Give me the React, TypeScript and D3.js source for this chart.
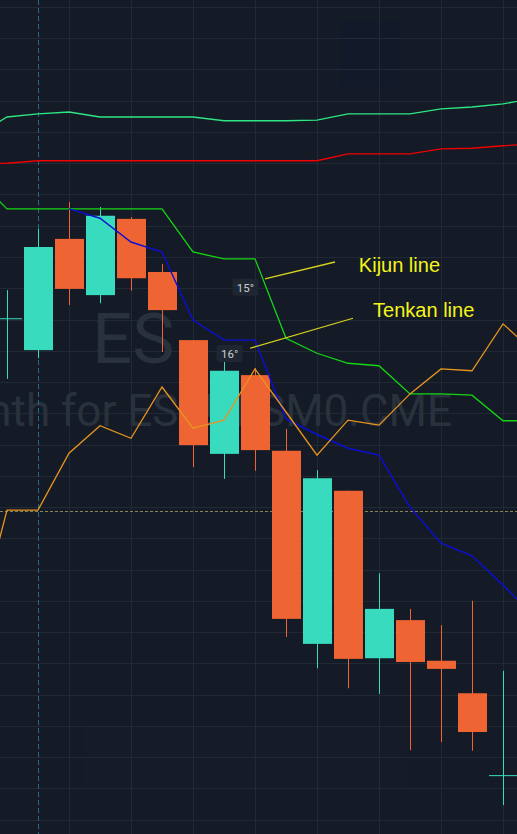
import React from 'react';
import * as d3 from 'd3';

// trading sessions shown (one candle each)
const sessions = [
  '02-13', '02-14', '02-18', '02-19', '02-20', '02-21', '02-24', '02-25', '02-26',
  '02-27', '02-28', '03-02', '03-03', '03-04', '03-05', '03-06', '03-09',
];
const opens = [2952, 2901, 3079, 2989, 3111, 3026, 2917, 2735, 2861, 2740, 2431, 2676, 2408, 2469, 2404, 2352, 2221];
const highs = [2997, 3095, 3138, 3130, 3114, 3039, 2917, 2885, 2872, 2775, 2709, 2676, 2544, 2487, 2461, 2500, 2388];
const lows = [2855, 2888, 2973, 2976, 2996, 2898, 2714, 2695, 2708, 2442, 2392, 2360, 2351, 2261, 2274, 2260, 2173];
const closes = [2952, 3066, 2999, 3116, 3016, 2965, 2749, 2868, 2741, 2471, 2696, 2407, 2487, 2402, 2391, 2290, 2221];

// ichimoku lines, values start at index -1 (one session before the first candle) unless noted
const spanA = [3244, 3274, 3279, 3282, 3274, 3274, 3274, 3274, 3268, 3268, 3268, 3269, 3279, 3279, 3279, 3287, 3290, 3295, 3304];
const spanB = [3199, 3200, 3204, 3204, 3204, 3204, 3204, 3204, 3204, 3204, 3204, 3204, 3215, 3215, 3215, 3223, 3224, 3228, 3231];
const kijun = [3176, 3127, 3127, 3127, 3127, 3127, 3127, 3058, 3047, 3047, 2920, 2896, 2880, 2876, 2831, 2831, 2829, 2788, 2788];
const tenkanStart = 2;
const tenkan = [3127, 3112, 3074, 3058, 2949, 2917, 2917, 2791, 2766, 2744, 2733, 2650, 2592, 2572, 2525, 2476];
const chikou = [2453, 2645, 2645, 2736, 2780, 2760, 2842, 2776, 2789, 2871, 2802, 2733, 2789, 2781, 2831, 2871, 2868, 2943, 2898];

const lastPrice = 2644;
const markerIndex = 1;
const gridPrices = d3.range(2150, 3451, 50);
const gridIndices = [2, 4, 6, 8, 10, 12, 14, 16];

// drawings: [index, price]
const kijunNote = { from: [8.32, 3015], to: [10.58, 3042], text: 'Kijun line', at: [11.35, 3026] };
const tenkanNote = { from: [7.84, 2904], to: [11.16, 2952], text: 'Tenkan line', at: [11.81, 2954] };
const angleLabels = [
  { text: '15°', at: [7.69, 3001] },
  { text: '16°', at: [7.18, 2895] },
];

const W = 517;
const H = 834;
const UP = '#38dbbd';
const DOWN = '#ef6433';

export default function App() {
  const x = d3.scaleLinear().domain([0, 16]).range([7, 503]);
  const y = d3.scaleLinear().domain([2150, 3450]).range([819.5, 7]);
  const bodyW = 29;

  const line = (vals: number[], start: number) =>
    d3.line<number>()
      .x((_, i) => x(i + start))
      .y(d => y(d))(vals) || '';

  return (
    <div style={{ position: 'fixed', left: 0, top: 0, width: W, height: H }}>
      <svg width={W} height={H} style={{ display: 'block', background: '#141b26' }}>
        <defs>
          <clipPath id="pane"><rect x={0} y={0} width={W} height={H} /></clipPath>
        </defs>
        <g clipPath="url(#pane)">
          {/* faint panels */}
          <rect x={340} y={20} width={60} height={67} fill="#121a29" />
          <rect x={85} y={727} width={321} height={62} fill="#151c27" />

          {/* grid */}
          {gridPrices.map(p => (
            <line key={'h' + p} x1={0} x2={W} y1={Math.round(y(p)) + 0.5} y2={Math.round(y(p)) + 0.5} stroke="#212934" strokeWidth={1} />
          ))}
          {gridIndices.map(i => (
            <line key={'v' + i} x1={Math.round(x(i)) + 0.5} x2={Math.round(x(i)) + 0.5} y1={0} y2={H} stroke="#212934" strokeWidth={1} />
          ))}

          {/* watermark */}
          <text x={92} y={363} fontFamily="Roboto" fontSize={71} fill="#29313c">ES</text>
          <text x={452} y={426} textAnchor="end" fontFamily="Roboto" fontSize={44} fill="#29313c">
            Continuous: Current contract in front month for ES1!, ESM0.CME
          </text>

          {/* markers */}
          <line x1={Math.round(x(markerIndex)) + 0.5} x2={Math.round(x(markerIndex)) + 0.5} y1={0} y2={H}
            stroke="#1d6d87" strokeWidth={1} strokeDasharray="5 3" />
          <line x1={0} x2={W} y1={Math.round(y(lastPrice)) + 0.5} y2={Math.round(y(lastPrice)) + 0.5}
            stroke="#85855a" strokeWidth={1} strokeDasharray="3 2" />

          {/* cloud lines */}
          <path d={line(spanA, -1)} fill="none" stroke="#2ee683" strokeWidth={1.3} />
          <path d={line(spanB, -1)} fill="none" stroke="#f00000" strokeWidth={1.3} />

          {/* candles */}
          {sessions.map((s, i) => {
            const o = opens[i], c = closes[i];
            const col = c >= o ? UP : DOWN;
            const top = y(Math.max(o, c));
            const bh = Math.max(1, y(Math.min(o, c)) - top);
            const cx = Math.round(x(i)) + 0.5;
            return (
              <g key={s}>
                <line x1={cx} x2={cx} y1={y(highs[i])} y2={y(lows[i])} stroke={col} strokeWidth={1} />
                <rect x={Math.round(x(i) - bodyW / 2)} y={top} width={bodyW} height={bh} fill={col} />
              </g>
            );
          })}

          {/* ichimoku lines over candles */}
          <path d={line(kijun, -1)} fill="none" stroke="#14d614" strokeWidth={1.3} />
          <path d={line(tenkan, tenkanStart)} fill="none" stroke="#0b0fd6" strokeWidth={1.4} />
          <path d={line(chikou, -1)} fill="none" stroke="#e8941e" strokeWidth={1.3} />

          {/* drawings */}
          {[kijunNote, tenkanNote].map(n => (
            <g key={n.text}>
              <line x1={x(n.from[0])} y1={y(n.from[1])} x2={x(n.to[0])} y2={y(n.to[1])} stroke="#d8d21e" strokeWidth={1.3} />
              <text x={x(n.at[0])} y={y(n.at[1])} fontFamily="Liberation Sans, Arial, sans-serif" fontSize={20} fill="#f5f51a">{n.text}</text>
            </g>
          ))}
          {angleLabels.map(a => (
            <g key={a.text}>
              <rect x={x(a.at[0]) - 13} y={y(a.at[1]) - 9} width={26} height={17} rx={2} fill="#1f2631" />
              <text x={x(a.at[0])} y={y(a.at[1]) + 4} textAnchor="middle" fontFamily="Roboto" fontSize={11.5} fill="#c9cdd5">{a.text}</text>
            </g>
          ))}
        </g>
      </svg>
    </div>
  );
}
